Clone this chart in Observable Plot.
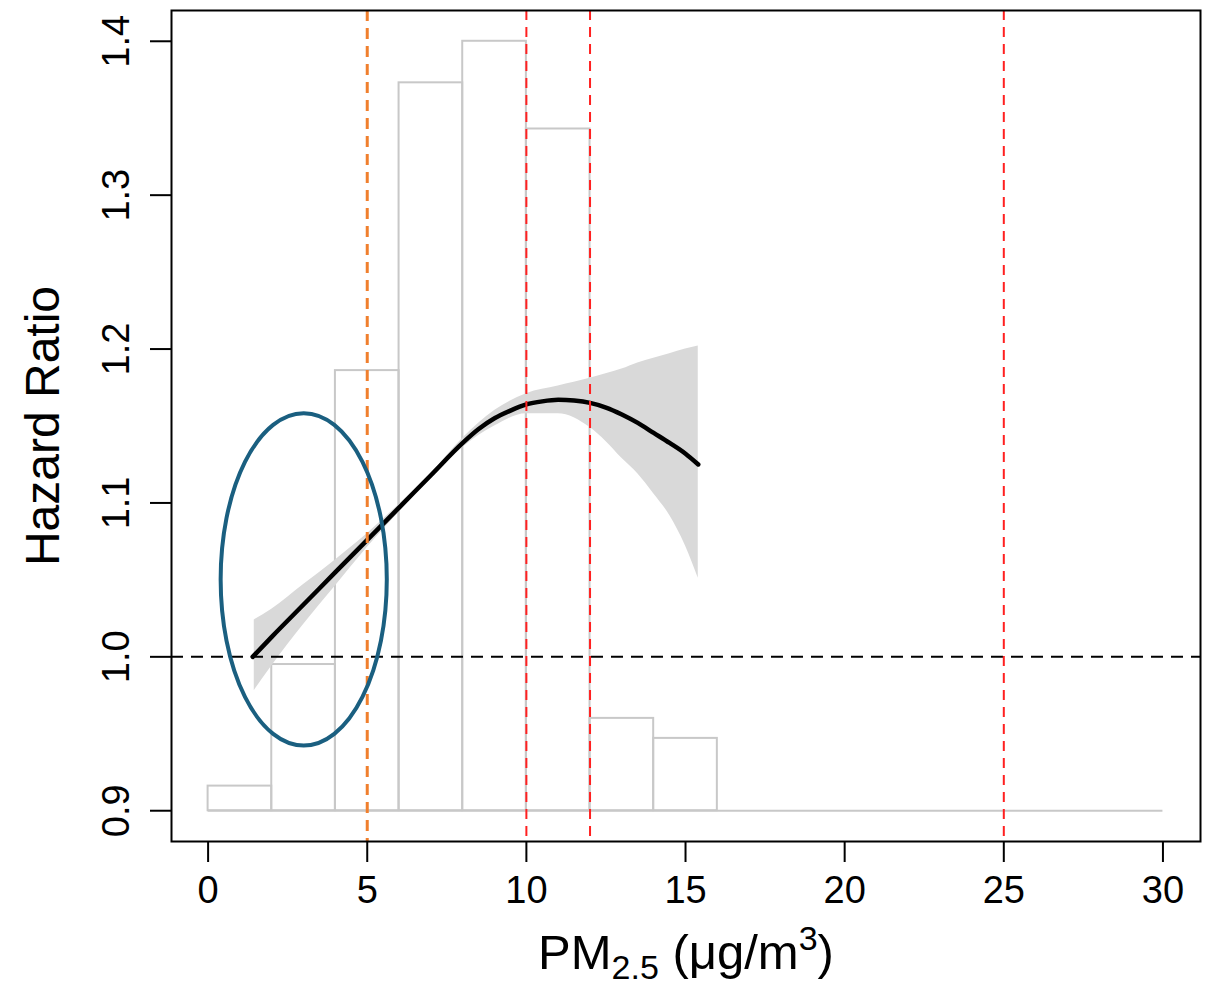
<!DOCTYPE html>
<html><head><meta charset="utf-8">
<script src="https://cdn.jsdelivr.net/npm/d3@7"></script>
<script src="https://cdn.jsdelivr.net/npm/@observablehq/plot@0.6"></script>
<style>body{margin:0;background:#fff} svg{display:block}</style>
</head><body><div id="chart"></div>
<script>
// Histogram of exposure (bar tops on the hazard-ratio scale)
const binLo  = [0, 2, 4, 6, 8, 10, 12, 14];
const binHi  = [2, 4, 6, 8, 10, 12, 14, 16];
const binTop = [0.916, 0.995, 1.186, 1.373, 1.400, 1.343, 0.960, 0.947];
const histBase = 0.9;
const histEnd = 30;

// Fitted hazard ratio curve
const curveX = [1.4, 2, 3, 4, 5, 6, 7, 8, 8.5, 9, 9.5, 10, 10.5, 11, 11.5, 12, 12.5, 13, 13.5, 14, 14.5, 15, 15.4];
const curveY = [1.000, 1.013, 1.034, 1.055, 1.076, 1.097, 1.118, 1.139, 1.148, 1.155, 1.160, 1.164, 1.166, 1.167, 1.1665, 1.165, 1.162, 1.1575, 1.152, 1.1455, 1.139, 1.132, 1.125];

// Confidence band
const bandX  = [1.45, 2, 3, 4, 5, 6, 7, 8, 9, 10, 11, 12, 12.5, 13, 13.5, 14, 14.5, 15, 15.4];
const bandLo = [0.978, 0.994, 1.021, 1.046, 1.071, 1.094, 1.116, 1.136, 1.150, 1.158, 1.158, 1.149, 1.140, 1.129, 1.119, 1.106, 1.092, 1.072, 1.051];
const bandHi = [1.024, 1.031, 1.047, 1.063, 1.080, 1.099, 1.119, 1.142, 1.160, 1.171, 1.176, 1.181, 1.184, 1.187, 1.191, 1.194, 1.197, 1.200, 1.202];

// Reference lines
const orangeX = [5];
const redX = [10, 12, 25];
const refY = [1.0];

// Ticks
const xTicks = [0, 5, 10, 15, 20, 25, 30];
const yTicks = [0.9, 1.0, 1.1, 1.2, 1.3, 1.4];

// Highlight ellipse (data units)
const ellipseCx = 3.02, ellipseCy = 1.05, ellipseRx = 2.61, ellipseRy = 0.108;

const bins = binLo.map((lo, i) => ({lo, hi: binHi[i], top: binTop[i]}));
const curve = curveX.map((x, i) => ({x, y: curveY[i]}));
const band = bandX.map((x, i) => ({x, lo: bandLo[i], hi: bandHi[i]}));

const ellipseMark = (index, scales) => {
  const cx = scales.x(ellipseCx), cy = scales.y(ellipseCy);
  const rx = Math.abs(scales.x(ellipseCx + ellipseRx) - cx);
  const ry = Math.abs(scales.y(ellipseCy + ellipseRy) - cy);
  return d3.create("svg:ellipse")
    .attr("cx", cx).attr("cy", cy).attr("rx", rx).attr("ry", ry)
    .attr("fill", "none").attr("stroke", "#1a5f80").attr("stroke-width", 4)
    .node();
};

const xTitle = "PM2.5 (μg/m3)";

const plot = Plot.plot({
  width: 1211,
  height: 985,
  marginLeft: 171,
  marginRight: 11,
  marginTop: 10,
  marginBottom: 144,
  style: {fontFamily: "'Liberation Sans', Arial, sans-serif", background: "white", color: "black"},
  x: {domain: [-1.15, 31.18]},
  y: {domain: [0.88, 1.42]},
  marks: [
    Plot.rect(bins, {x1: "lo", x2: "hi", y1: histBase, y2: "top", fill: "none", stroke: "#c8c8c8", strokeWidth: 2}),
    Plot.ruleY([histBase], {x1: 0, x2: histEnd, stroke: "#c8c8c8", strokeWidth: 2}),
    Plot.areaY(band, {x: "x", y1: "lo", y2: "hi", fill: "#d9d9d9", curve: "monotone-x"}),
    Plot.line(curve, {x: "x", y: "y", stroke: "black", strokeWidth: 4.5, curve: "monotone-x"}),
    Plot.ruleY(refY, {stroke: "black", strokeWidth: 2, strokeDasharray: "12,8"}),
    Plot.ruleX(orangeX, {stroke: "#f07f2d", strokeWidth: 3, strokeDasharray: "11,7"}),
    Plot.ruleX(redX, {stroke: "#ff2020", strokeWidth: 2, strokeDasharray: "10,7"}),
    ellipseMark,
    Plot.frame({stroke: "black", strokeWidth: 2}),
    Plot.axisX({ticks: xTicks, tickSize: 21, tickPadding: 14, fontSize: 38, strokeWidth: 2, label: null}),
    Plot.axisY({ticks: yTicks, tickSize: 21, tickPadding: 22, tickRotate: -90, textAnchor: "middle", lineAnchor: "bottom",
                tickFormat: d3.format(".1f"), fontSize: 38, strokeWidth: 2, label: null}),
    Plot.text(["Hazard Ratio"], {text: d => d, frameAnchor: "left", textAnchor: "middle", rotate: -90, dx: -128, fontSize: 48}),
    Plot.text([xTitle], {text: d => d, frameAnchor: "bottom", dy: 127, lineAnchor: "bottom", fontSize: 49})
  ]
});

// Subscript / superscript in the x title
d3.select(plot).selectAll("text").filter(function() { return this.textContent === xTitle; })
  .each(function() {
    const t = d3.select(this);
    t.text(null);
    t.append("tspan").text("PM");
    t.append("tspan").attr("font-size", "34px").attr("dy", "10").text("2.5");
    t.append("tspan").attr("dy", "-10").text(" (μg/m");
    t.append("tspan").attr("font-size", "34px").attr("dy", "-19").text("3");
    t.append("tspan").attr("dy", "19").text(")");
  });

document.getElementById("chart").appendChild(plot);
</script>
</body></html>
